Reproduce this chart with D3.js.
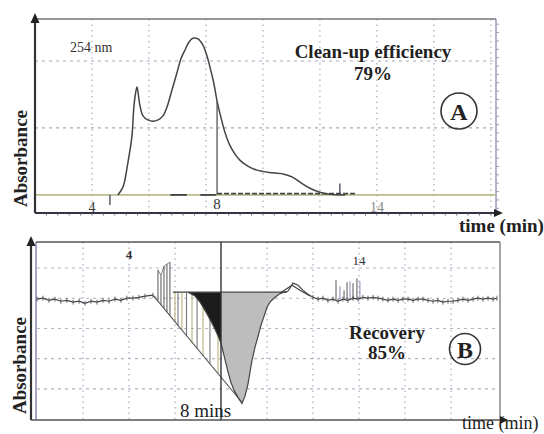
<!DOCTYPE html>
<html><head><meta charset="utf-8">
<script src="https://cdn.jsdelivr.net/npm/d3@7"></script>
<style>html,body{margin:0;padding:0;background:#fff;overflow:hidden}svg{display:block}</style>
</head><body><div id="chart"></div>
<script>
// ---------- Panel A data (time in min, absorbance in grid units) ----------
const traceA_time = [4.91,5.09,5.26,5.40,5.47,5.53,5.58,5.68,5.79,5.96,6.14,6.32,6.49,6.63,6.81,6.98,7.12,7.26,7.40,7.54,7.72,7.89,8.04,8.14,8.25,8.32,8.39,8.53,8.67,8.84,9.02,9.19,9.47,9.79,10.32,10.74,11.02,11.30,11.65,12.0,12.35,12.88];
const traceA_abs  = [0,0.12,0.48,0.87,1.31,1.52,1.61,1.34,1.18,1.12,1.10,1.12,1.18,1.31,1.57,1.82,2.03,2.16,2.28,2.34,2.33,2.24,2.07,1.91,1.72,1.57,1.40,1.15,0.93,0.74,0.61,0.52,0.43,0.37,0.33,0.31,0.27,0.19,0.10,0.04,0.01,0];
const markerA_time = 8.39;           // cut line labelled "8"
const smallTicksA = [{t:4.63, v0:0, v1:-0.15}, {t:12.7, v0:0, v1:0.17}];
const darkBaseA = [[6.75,7.33],[7.8,8.35]];
const dashedBaseA = [8.39, 13.3];
const tickLabelsA = [{t:4, text:"4"}, {t:markerA_time, text:"8"}, {t:14, text:"14"}];
const gridA_time = [4,6,8,10,12,14,16,18];
const gridA_abs = [1,2];

// ---------- Panel B data ----------
const baseLeftB_time = [0,0.26,0.52,0.78,1.04,1.30,1.57,1.83,2.09,2.35,2.61,2.87,3.13,3.39,3.65,3.91,4.17,4.43,4.70,5.04];
const baseLeftB_val  = [-0.03,0,-0.07,-0.03,-0.10,-0.07,-0.13,-0.10,-0.17,-0.10,-0.13,-0.07,-0.10,-0.03,-0.07,0,0,0.03,0.07,0.10];
const peakB_time = [6.57,6.87,7.09,7.35,7.61,7.78,7.91,8.00,8.13,8.30,8.43,8.57,8.74,8.91,9.04,9.17,9.26,9.35,9.48,9.61,9.74,9.87,10.0,10.13,10.30,10.52,10.74,10.91];
const peakB_val  = [0.20,0.07,-0.13,-0.46,-0.83,-1.09,-1.32,-1.49,-1.89,-2.42,-2.78,-3.05,-3.28,-3.48,-3.25,-2.85,-2.45,-2.05,-1.62,-1.26,-0.89,-0.60,-0.30,-0.13,0,0.13,0.20,0.23];
const humpB_time = [10.91,11.13,11.35,11.57,11.78,12.0];
const humpB_val  = [0.23,0.50,0.43,0.26,0.13,0.03];
const hump2B_time = [10.57,11.09,11.43,11.87];
const hump2B_val  = [0.17,0.43,0.26,0.07];
const baseRightB_time = [12.0,12.22,12.43,12.65,12.87,13.09,13.30,13.52,13.74,13.96,14.17,14.39,14.61,14.83,15.04,15.26,15.48,15.70,15.91,16.13,16.35,16.57,16.78,17.0,17.22,17.43,17.65,17.87,18.09,18.30,18.52,18.74,18.96,19.17,19.39,19.61,19.83,20.0];
const baseRightB_val  = [0.03,-0.03,0,-0.07,-0.03,-0.10,-0.03,-0.07,0,-0.03,0.03,0,0.03,0,-0.03,-0.07,-0.03,-0.07,-0.03,-0.03,-0.07,-0.03,-0.03,-0.07,-0.10,-0.07,-0.13,-0.10,-0.10,-0.07,-0.03,-0.07,-0.03,0,-0.03,0,-0.03,0];
const diagB_time = [5.04, 8.87];
const diagB_val  = [0.10, -3.41];
const levelB = {t0:5.91, t1:10.87, v:0.20};
const hatchB_time = [6.0,6.13,6.3,6.5,6.74,6.96,7.22,7.52,7.87];
const spikesLeftB_time = [5.13,5.26,5.39,5.52,5.65,5.78];
const spikesLeftB_top  = [0.07,0.93,0.76,1.06,1.13,1.19];
const spikesRightB_time = [13.0,13.17,13.35,13.48,13.61,13.74,13.91,14.04];
const spikesRightB_top  = [0.60,0.40,0.26,0.53,0.56,0.50,0.66,0.56];
const markerB_time = 8.0;
const tickLabelsB = [{t:4, text:"4"}, {t:14, text:"14"}];
const gridB_time = [2,4,6,10,12,14,16,18];
const gridB_val = [1,0,-1,-2,-3];

// ---------- drawing ----------
const W = 544, H = 434;
const svg = d3.select("#chart").append("svg").attr("width", W).attr("height", H);
const serif = "'Liberation Serif','DejaVu Serif',serif";
const ink = "#333";

// ---- Panel A ----
const xA = d3.scaleLinear().domain([2, 18.18]).range([35, 496]);
const yA = d3.scaleLinear().domain([-0.27, 2.627]).range([213, 19]);
const gA = svg.append("g");
gA.selectAll(".gvA").data(gridA_time).join("line")
  .attr("x1", d => xA(d)).attr("x2", d => xA(d)).attr("y1", yA(2.627)).attr("y2", yA(-0.27))
  .attr("stroke", "#a9a9c0").attr("stroke-width", 1.2).attr("stroke-dasharray", "1.5,4");
gA.selectAll(".ghA").data(gridA_abs).join("line")
  .attr("x1", xA(2)).attr("x2", xA(18.18)).attr("y1", d => yA(d)).attr("y2", d => yA(d))
  .attr("stroke", "#a9a9c0").attr("stroke-width", 1.2).attr("stroke-dasharray", "3,4");
// frame
gA.append("line").attr("x1", xA(2)).attr("x2", xA(18.18)).attr("y1", yA(2.627)).attr("y2", yA(2.627)).attr("stroke", "#777").attr("stroke-width", 1.5);
gA.append("line").attr("x1", xA(18.18)).attr("x2", xA(18.18)).attr("y1", yA(2.627)).attr("y2", yA(-0.27)).attr("stroke", "#8a8ab0").attr("stroke-width", 1.3);
// right minor ticks
gA.selectAll(".rtA").data(d3.range(-0.2, 2.6, 0.125)).join("line")
  .attr("x1", xA(18.18)).attr("x2", xA(18.18) + 3).attr("y1", d => yA(d)).attr("y2", d => yA(d))
  .attr("stroke", "#8a8ab0").attr("stroke-width", 0.8);
// baseline
gA.append("line").attr("x1", xA(2)).attr("x2", xA(18.18)).attr("y1", yA(0)).attr("y2", yA(0)).attr("stroke", "#bdbb8e").attr("stroke-width", 1.6);
gA.selectAll(".dbA").data(darkBaseA).join("line")
  .attr("x1", d => xA(d[0])).attr("x2", d => xA(d[1])).attr("y1", yA(0)).attr("y2", yA(0))
  .attr("stroke", "#444").attr("stroke-width", 1.8);
gA.append("line").attr("x1", xA(dashedBaseA[0])).attr("x2", xA(dashedBaseA[1])).attr("y1", yA(0.02)).attr("y2", yA(0.02))
  .attr("stroke", "#444").attr("stroke-width", 1.8).attr("stroke-dasharray", "5,2");
// trace
const ptsA = traceA_time.map((t, i) => [t, traceA_abs[i]]);
gA.append("path").datum(ptsA)
  .attr("d", d3.line().x(d => xA(d[0])).y(d => yA(d[1])).curve(d3.curveCatmullRom))
  .attr("fill", "none").attr("stroke", "#444").attr("stroke-width", 1.5);
// marker
const markerA_val = traceA_abs[traceA_time.indexOf(markerA_time)];
gA.append("line").attr("x1", xA(markerA_time)).attr("x2", xA(markerA_time)).attr("y1", yA(markerA_val)).attr("y2", yA(0))
  .attr("stroke", "#555").attr("stroke-width", 1.3);
gA.selectAll(".stA").data(smallTicksA).join("line")
  .attr("x1", d => xA(d.t)).attr("x2", d => xA(d.t)).attr("y1", d => yA(d.v0)).attr("y2", d => yA(d.v1))
  .attr("stroke", "#445").attr("stroke-width", 1.3);
// axes
gA.append("line").attr("x1", xA(2)).attr("x2", xA(2)).attr("y1", yA(-0.27)).attr("y2", 20).attr("stroke", "#333").attr("stroke-width", 2.2);
gA.append("path").attr("d", `M${xA(2)},13 L${xA(2)-4.5},23 L${xA(2)+4.5},23 Z`).attr("fill", "#222");
gA.append("line").attr("x1", xA(2)).attr("x2", 497).attr("y1", yA(-0.27)).attr("y2", yA(-0.27)).attr("stroke", "#334").attr("stroke-width", 1.8);
gA.append("path").attr("d", `M503,${yA(-0.27)} L494,${yA(-0.27)-4} L494,${yA(-0.27)+4} Z`).attr("fill", "#222");
gA.selectAll(".btA").data(d3.range(2.4, 18.1, 0.4)).join("line")
  .attr("x1", d => xA(d)).attr("x2", d => xA(d)).attr("y1", yA(-0.27)).attr("y2", yA(-0.27) + 2.5)
  .attr("stroke", "#556").attr("stroke-width", 0.9);
// tick labels
gA.selectAll(".tlA").data(tickLabelsA).join("text")
  .attr("x", d => xA(d.t)).attr("y", d => d.text === "8" ? 209 : 212)
  .attr("text-anchor", "middle").attr("font-family", serif).attr("font-size", d => d.text === "8" ? 15 : 14)
  .attr("fill", d => d.text === "14" ? "#888" : "#333").text(d => d.text);
// annotations
gA.append("text").attr("x", 70).attr("y", 52).attr("font-family", serif).attr("font-size", 14).attr("fill", ink).text("254 nm");
gA.append("text").attr("x", 373).attr("y", 58).attr("text-anchor", "middle").attr("font-family", serif).attr("font-weight", "bold").attr("font-size", 19).attr("fill", "#222").text("Clean-up efficiency");
gA.append("text").attr("x", 373).attr("y", 80).attr("text-anchor", "middle").attr("font-family", serif).attr("font-weight", "bold").attr("font-size", 19).attr("fill", "#222").text("79%");
gA.append("circle").attr("cx", 459).attr("cy", 111).attr("r", 18).attr("fill", "none").attr("stroke", "#333").attr("stroke-width", 1.6);
gA.append("text").attr("x", 459).attr("y", 119.5).attr("text-anchor", "middle").attr("font-family", serif).attr("font-weight", "bold").attr("font-size", 24).attr("fill", "#222").text("A");
gA.append("text").attr("transform", "translate(27,158.5) rotate(-90)").attr("text-anchor", "middle").attr("font-family", serif).attr("font-weight", "bold").attr("font-size", 19).attr("fill", "#222").text("Absorbance");
svg.append("text").attr("x", 459).attr("y", 232).attr("font-family", serif).attr("font-weight", "bold").attr("font-size", 19).attr("fill", "#222").text("time (min)");

// ---- Panel B ----
const xB = d3.scaleLinear().domain([0, 20]).range([37, 497]);
const yB = d3.scaleLinear().domain([-4.03, 1.86]).range([420, 242]);
const gB = svg.append("g");
gB.selectAll(".gvB").data(gridB_time).join("line")
  .attr("x1", d => xB(d)).attr("x2", d => xB(d)).attr("y1", yB(1.86)).attr("y2", yB(-4.03))
  .attr("stroke", "#a9a9c0").attr("stroke-width", 1.2).attr("stroke-dasharray", "1.5,4");
gB.selectAll(".ghB").data(gridB_val).join("line")
  .attr("x1", xB(0)).attr("x2", xB(20)).attr("y1", d => yB(d)).attr("y2", d => yB(d))
  .attr("stroke", "#b4b4c8").attr("stroke-width", 1.1).attr("stroke-dasharray", "3,4");
// frame
gB.append("line").attr("x1", 36).attr("x2", xB(20) + 3).attr("y1", yB(1.86)).attr("y2", yB(1.86)).attr("stroke", "#555").attr("stroke-width", 1.5);
gB.append("line").attr("x1", xB(20) + 3).attr("x2", xB(20) + 3).attr("y1", yB(1.86)).attr("y2", yB(-4.03)).attr("stroke", "#777").attr("stroke-width", 1.3);
gB.append("line").attr("x1", 36).attr("x2", 36).attr("y1", yB(1.86)).attr("y2", yB(-4.03)).attr("stroke", "#6a6aa0").attr("stroke-width", 1.2);
gB.append("line").attr("x1", 31).attr("x2", 31).attr("y1", yB(-4.03)).attr("y2", 244).attr("stroke", "#333").attr("stroke-width", 2.2);
gB.append("path").attr("d", `M31,236 L26.5,246 L35.5,246 Z`).attr("fill", "#222");
gB.append("line").attr("x1", 31).attr("x2", 503).attr("y1", yB(-4.03)).attr("y2", yB(-4.03)).attr("stroke", "#555").attr("stroke-width", 1.6);
gB.append("path").attr("d", `M508,${yB(-4.03)} L500,${yB(-4.03)-4} L500,${yB(-4.03)+4} Z`).attr("fill", "#222");

// hatch lines (level -> diagonal)
const diagAt = d3.scaleLinear().domain(diagB_time).range(diagB_val);
gB.selectAll(".hB").data(hatchB_time).join("line")
  .attr("x1", d => xB(d)).attr("x2", d => xB(d)).attr("y1", yB(levelB.v)).attr("y2", d => yB(diagAt(d)))
  .attr("stroke", (d, i) => i % 2 ? "#777" : "#b9b27a").attr("stroke-width", 1.1);
// left spikes
gB.selectAll(".slB").data(spikesLeftB_time).join("line")
  .attr("x1", d => xB(d)).attr("x2", d => xB(d)).attr("y1", d => yB(diagAt(d))).attr("y2", (d, i) => yB(spikesLeftB_top[i]))
  .attr("stroke", "#555").attr("stroke-width", 1);
gB.append("path").datum(spikesLeftB_time.map((t, i) => [t, spikesLeftB_top[i]]).slice(1))
  .attr("d", d3.line().x(d => xB(d[0])).y(d => yB(d[1])))
  .attr("fill", "none").attr("stroke", "#666").attr("stroke-width", 0.8);
// right spikes
gB.selectAll(".srB").data(spikesRightB_time).join("line")
  .attr("x1", d => xB(d)).attr("x2", d => xB(d)).attr("y1", yB(-0.05)).attr("y2", (d, i) => yB(spikesRightB_top[i]))
  .attr("stroke", (d, i) => i % 3 === 1 ? "#8888bb" : "#555").attr("stroke-width", 1);

// fills under level
const peakPts = peakB_time.map((t, i) => [t, peakB_val[i]]);
const areaGen = d3.area().x(d => xB(d[0])).y0(yB(levelB.v)).y1(d => yB(Math.min(d[1], levelB.v))).curve(d3.curveLinear);
gB.append("path").datum(peakPts.filter(d => d[0] <= markerB_time))
  .attr("d", areaGen).attr("fill", "#1c1c1c");
gB.append("path").datum(peakPts.filter(d => d[0] >= markerB_time))
  .attr("d", areaGen).attr("fill", "#bdbdbd");
// diagonal
gB.append("path").datum(diagB_time.map((t, i) => [t, diagB_val[i]]))
  .attr("d", d3.line().x(d => xB(d[0])).y(d => yB(d[1])))
  .attr("stroke", "#555").attr("stroke-width", 1.1);
// level line
gB.append("line").attr("x1", xB(levelB.t0)).attr("x2", xB(levelB.t1)).attr("y1", yB(levelB.v)).attr("y2", yB(levelB.v))
  .attr("stroke", "#444").attr("stroke-width", 1.3);
// traces
const lineB = d3.line().x(d => xB(d[0])).y(d => yB(d[1]));
const series = [
  [baseLeftB_time, baseLeftB_val],
  [peakB_time, peakB_val],
  [humpB_time, humpB_val],
  [hump2B_time, hump2B_val],
  [baseRightB_time, baseRightB_val]
];
series.forEach(([ts, vs]) => {
  gB.append("path").datum(ts.map((t, i) => [t, vs[i]]))
    .attr("d", lineB).attr("fill", "none").attr("stroke", "#444").attr("stroke-width", 1.2);
});
// noise tick marks on baselines
[[baseLeftB_time, baseLeftB_val], [baseRightB_time, baseRightB_val]].forEach(([ts, vs]) => {
  gB.selectAll(null).data(ts.map((t, i) => [t, vs[i]])).join("line")
    .attr("x1", d => xB(d[0])).attr("x2", d => xB(d[0])).attr("y1", d => yB(d[1]) - 2.5).attr("y2", d => yB(d[1]) + 2.5)
    .attr("stroke", "#555").attr("stroke-width", 0.9);
});
// 8-min marker
gB.append("line").attr("x1", xB(markerB_time)).attr("x2", xB(markerB_time)).attr("y1", yB(1.86)).attr("y2", yB(-4.03))
  .attr("stroke", "#333").attr("stroke-width", 1.4);
// labels
gB.selectAll(".tlB").data(tickLabelsB).join("text")
  .attr("x", d => xB(d.t)).attr("y", d => d.text === "4" ? 259 : 265)
  .attr("text-anchor", "middle").attr("font-family", serif).attr("font-size", 13)
  .attr("font-weight", d => d.text === "4" ? "bold" : "normal").attr("fill", "#333").text(d => d.text);
gB.append("text").attr("x", 180).attr("y", 417).attr("font-family", serif).attr("font-size", 19).attr("fill", "#222").text("8 mins");
gB.append("text").attr("x", 387).attr("y", 339).attr("text-anchor", "middle").attr("font-family", serif).attr("font-weight", "bold").attr("font-size", 19).attr("fill", "#222").text("Recovery");
gB.append("text").attr("x", 387).attr("y", 359).attr("text-anchor", "middle").attr("font-family", serif).attr("font-weight", "bold").attr("font-size", 19).attr("fill", "#222").text("85%");
gB.append("circle").attr("cx", 465).attr("cy", 349).attr("r", 15.5).attr("fill", "none").attr("stroke", "#333").attr("stroke-width", 1.6);
gB.append("text").attr("x", 465).attr("y", 357.5).attr("text-anchor", "middle").attr("font-family", serif).attr("font-weight", "bold").attr("font-size", 24).attr("fill", "#222").text("B");
gB.append("text").attr("transform", "translate(26,365.5) rotate(-90)").attr("text-anchor", "middle").attr("font-family", serif).attr("font-weight", "bold").attr("font-size", 19).attr("fill", "#222").text("Absorbance");
svg.append("text").attr("x", 462).attr("y", 429).attr("font-family", serif).attr("font-size", 18).attr("fill", "#222").text("time (min)");
</script>
</body></html>
